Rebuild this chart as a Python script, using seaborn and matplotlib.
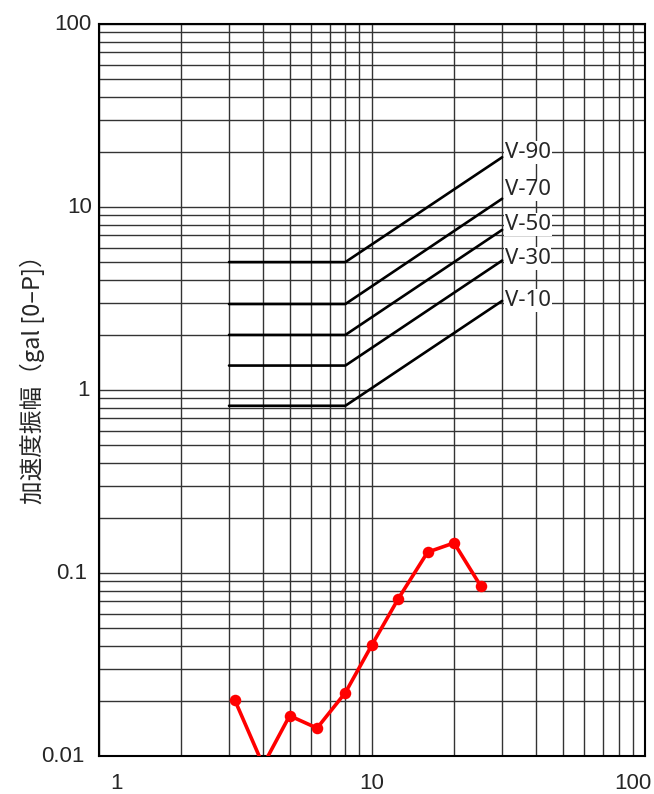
import numpy as np
import pandas as pd
import matplotlib
matplotlib.use("Agg")
import matplotlib.pyplot as plt
import seaborn as sns
from matplotlib.ticker import NullFormatter

# ---------------- data ----------------
freq = [3.15, 4, 5, 6.3, 8, 10, 12.5, 16, 20, 25]
accel = [0.0202, 0.0089, 0.0166, 0.0142, 0.0222, 0.0404, 0.0724, 0.130, 0.146, 0.0852]

curve_freq = [3, 8, 30]
curve_names = ["V-90", "V-70", "V-50", "V-30", "V-10"]
v90 = [5.0, 5.0, 18.7]
v70 = [2.95, 2.95, 11.1]
v50 = [2.0, 2.0, 7.5]
v30 = [1.36, 1.36, 5.1]
v10 = [0.82, 0.82, 3.07]
curve_vals = [v90, v70, v50, v30, v10]

x_ticks = [1, 10, 100]
x_tick_labels = ["1", "10", "100"]
y_ticks = [0.01, 0.1, 1, 10, 100]
y_tick_labels = ["0.01", "0.1", "1", "10", "100"]
y_label = "加速度振幅（gal [0–P]）"

# ---------------- style ----------------
sns.set_style("white")
plt.rcParams["font.family"] = ["Liberation Sans", "DejaVu Sans"]

fig = plt.figure(figsize=(6.54, 7.94), dpi=100)
ax = fig.add_axes([98.7 / 654, 38 / 794, (645 - 98.7) / 654, (756 - 24) / 794])

ax.set_xscale("log")
ax.set_yscale("log")
ax.set_xlim(1, 100)
ax.set_ylim(0.01, 100)

ax.grid(which="both", color="#333333", linewidth=1.0)
ax.set_axisbelow(True)

# criteria lines
rows = []
for name, vals in zip(curve_names, curve_vals):
    for f, v in zip(curve_freq, vals):
        rows.append({"name": name, "f": f, "v": v})
cdf = pd.DataFrame(rows)
sns.lineplot(data=cdf, x="f", y="v", units="name", estimator=None,
             color="black", linewidth=1.9, ax=ax, legend=False, zorder=3)

# measured data
mdf = pd.DataFrame({"f": freq, "a": accel})
sns.lineplot(data=mdf, x="f", y="a", color="#ff0000", linewidth=2.6,
             marker="o", markersize=8.3, markeredgewidth=0,
             ax=ax, legend=False, zorder=4)

# curve labels
label_dy = [3.6, 6.3, 3.6, 1.5, 0.0]  # points upward
for name, vals, dy in zip(curve_names, curve_vals, label_dy):
    ax.annotate(name, xy=(curve_freq[-1], vals[-1]), xytext=(1.8, dy),
                textcoords="offset points", ha="left", va="center",
                fontsize=16, family=["Noto Sans", "DejaVu Sans"],
                bbox=dict(fc="white", ec="none", pad=0.6), zorder=5)

# ticks
ax.set_xticks(x_ticks)
ax.set_yticks(y_ticks)
ax.set_xticklabels([])
ax.set_yticklabels([])
ax.xaxis.set_minor_formatter(NullFormatter())
ax.yaxis.set_minor_formatter(NullFormatter())
ax.tick_params(which="major", direction="in", length=5, width=1.2, color="black")
ax.tick_params(which="minor", length=0)
ax.set_xlabel("")
ax.set_ylabel("")

x_dx = [13.0, 0.0, -9.0]
for v, lab, dx in zip(x_ticks, x_tick_labels, x_dx):
    ax.annotate(lab, xy=(v, 0), xycoords=("data", "axes fraction"),
                xytext=(dx, -12), textcoords="offset points",
                ha="center", va="top", fontsize=16)
y_dx = [-10.5, -8.0, -6.5, -5.0, -5.0]
for v, lab, dx in zip(y_ticks, y_tick_labels, y_dx):
    ax.annotate(lab, xy=(0, v), xycoords=("axes fraction", "data"),
                xytext=(dx, -0.5), textcoords="offset points",
                ha="right", va="center", fontsize=16)

ax.text(-0.122, 0.522, y_label, transform=ax.transAxes, rotation=90,
        ha="center", va="center", fontsize=17,
        family=["Noto Sans CJK JP", "DejaVu Sans"])

for s in ax.spines.values():
    s.set_color("black")
    s.set_linewidth(1.5)

fig.savefig("out.png", dpi=100)
